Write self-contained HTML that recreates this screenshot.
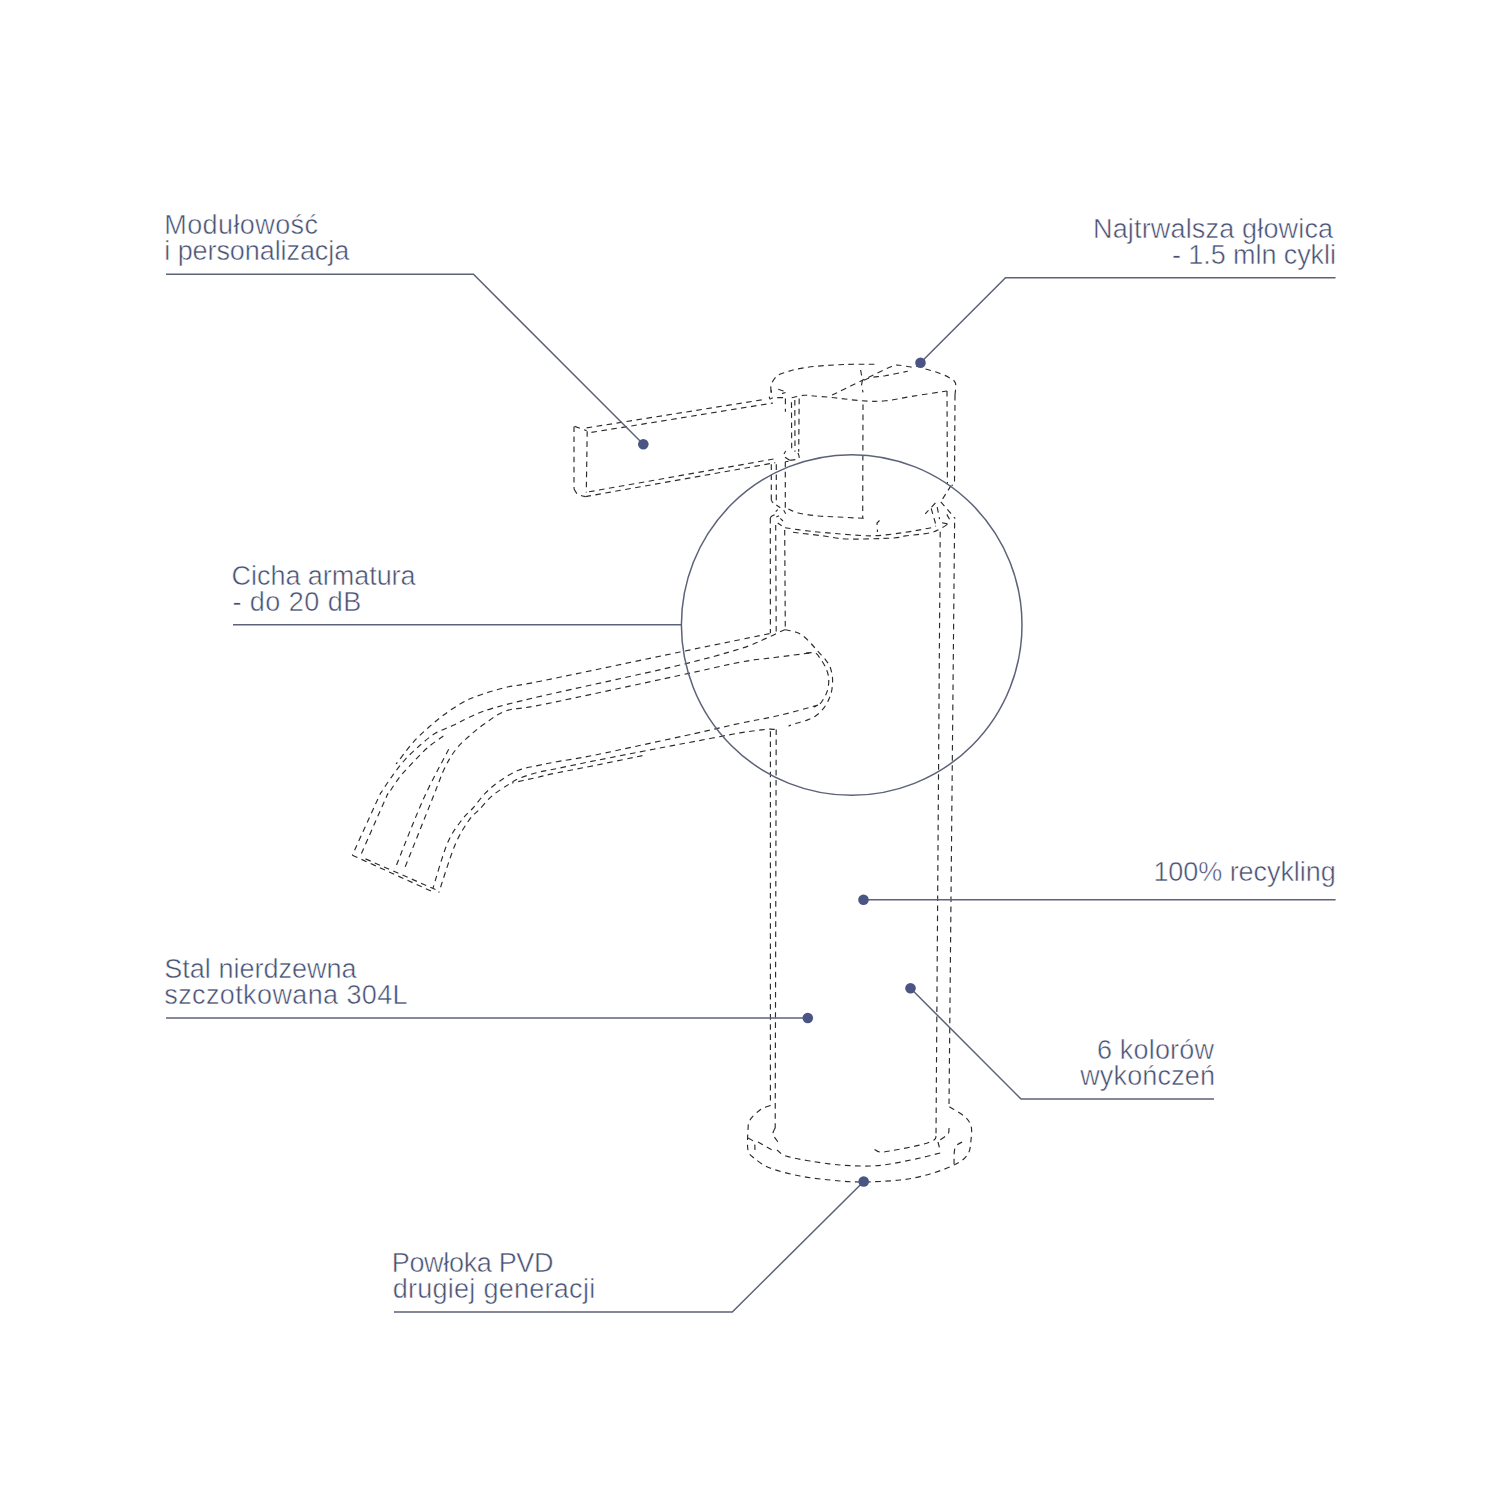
<!DOCTYPE html>
<html><head><meta charset="utf-8"><style>
html,body{margin:0;padding:0;background:#fff;width:1500px;height:1500px;overflow:hidden}
svg{display:block}
.t text{font-family:"Liberation Sans",sans-serif;font-size:27px;fill:#475073;stroke:#fff;stroke-width:0.5px}
</style></head><body>
<svg width="1500" height="1500" viewBox="0 0 1500 1500">
<g fill="none" stroke="#2b2b2b" stroke-width="1.15" stroke-dasharray="5.6 4.5"><path d="M574.0,488.8 C574.4,489.5 575.4,491.9 576.5,493.0 C577.6,494.1 579.1,494.8 580.6,495.4 C582.1,496.0 584.6,496.4 585.4,496.6"/><path d="M771.2,392.0 C771.2,390.8 770.2,387.3 771.2,384.6 C772.2,381.9 774.7,377.8 777.3,375.7 C779.9,373.6 783.4,373.1 786.6,372.0 C789.8,370.9 791.7,370.1 796.4,369.2 C801.1,368.3 807.1,367.2 815.0,366.4 C822.9,365.6 834.0,364.9 844.0,364.5 C854.0,364.1 869.8,364.3 875.0,364.3"/><path d="M925.5,369.0 C927.4,369.6 932.8,370.9 936.7,372.3 C940.6,373.7 945.8,375.6 948.9,377.4 C952.0,379.2 954.4,380.1 955.4,383.0 C956.4,385.9 955.1,393.0 955.0,395.0"/><path d="M791.7,397.7 C793.7,397.3 800.2,395.6 803.9,395.3 C807.6,395.0 809.0,395.6 813.7,396.0 C818.4,396.4 824.1,396.7 832.1,397.5 C840.1,398.3 853.1,400.2 862.0,400.8 C870.9,401.4 876.8,401.6 885.4,400.8 C894.0,400.0 903.1,397.7 913.4,396.1 C923.7,394.5 941.4,391.9 947.0,391.0"/><path d="M788.3,509.0 C790.0,509.7 793.3,511.8 798.3,513.0 C803.3,514.2 812.7,515.4 818.3,516.0 C823.9,516.6 824.6,516.3 832.0,516.7 C839.4,517.1 856.7,518.0 862.7,518.2 C868.7,518.5 867.1,518.2 868.0,518.2"/><path d="M832.1,395.1 C837.2,392.6 852.7,384.9 862.5,380.2 C872.3,375.5 884.9,369.2 891.0,366.7 C897.1,364.2 896.0,365.2 899.4,365.3 C902.8,365.4 908.4,367.0 911.5,367.1 C914.6,367.2 916.9,366.2 918.0,366.0"/><path d="M863.9,380.2 C865.3,379.7 868.7,378.1 872.3,377.4 C875.9,376.6 879.5,376.7 885.4,375.7 C891.3,374.7 904.1,372.0 907.8,371.3"/><path d="M769.3,396.7 C769.4,397.1 769.5,398.8 770.0,399.0 C770.5,399.2 771.1,398.2 772.0,398.0 C772.9,397.8 773.5,397.8 775.4,397.7 C777.3,397.6 782.0,397.7 783.3,397.7"/><path d="M778.2,389.3 C778.8,389.5 780.6,390.1 782.0,390.5 C783.4,390.9 786.6,391.5 786.6,392.0 C786.6,392.5 782.8,393.2 782.0,393.5"/><path d="M773.0,503.0 L771.3,500.3"/><path d="M785.0,457.3 L789.7,460.3"/><path d="M789.7,460.3 C791.1,460.1 796.8,459.7 798.3,459.0 C799.8,458.3 799.0,457.0 799.0,456.0 C799.0,455.0 798.2,453.5 798.0,453.0"/><path d="M770.3,518.0 C770.6,517.7 770.7,516.8 772.0,516.0 C773.3,515.2 777.0,513.5 778.0,513.0"/><path d="M785.0,527.8 C788.9,528.3 801.6,530.2 808.3,531.0 C815.0,531.8 814.7,531.8 825.0,532.6 C835.3,533.4 857.1,535.8 870.3,535.8 C883.5,535.8 894.5,533.7 904.2,532.4 C914.0,531.1 923.5,529.2 928.8,528.2 C934.1,527.2 934.8,526.5 936.0,526.1"/><path d="M793.0,532.3 C797.8,532.9 812.7,534.6 821.7,535.7 C830.8,536.8 835.4,538.6 847.3,539.0 C859.2,539.4 883.6,538.5 893.3,538.0 C903.0,537.5 899.4,536.7 905.4,535.9 C911.4,535.1 923.7,534.1 929.4,533.0 C935.1,531.9 936.5,530.6 939.6,529.1 C942.7,527.6 946.6,524.9 948.0,524.0"/><path d="M769.5,633.6 C764.6,634.6 754.9,636.6 740.0,639.7 C725.1,642.8 713.1,645.1 680.0,652.0 C646.9,658.9 570.5,675.1 541.5,681.0 C512.5,686.9 517.0,684.8 506.3,687.3 C495.6,689.8 484.5,693.4 477.0,696.1 C469.5,698.8 466.8,700.2 461.3,703.3 C455.8,706.4 449.4,710.7 444.0,714.7 C438.6,718.7 433.7,722.9 428.7,727.3 C423.7,731.7 418.6,736.3 414.0,741.3 C409.4,746.3 404.3,753.5 401.3,757.3 C398.3,761.1 396.9,762.9 396.0,764.0"/><path d="M785.0,629.7 C784.0,630.1 782.2,630.8 779.0,632.3 C775.8,633.8 772.5,635.6 766.0,638.4 C759.5,641.1 755.0,644.2 740.0,648.8 C725.0,653.4 709.1,658.1 676.0,666.0 C642.9,673.9 572.2,689.0 541.5,696.1 C510.8,703.2 503.6,705.1 491.6,708.6 C479.6,712.1 475.7,714.5 469.3,717.3 C462.9,720.1 459.0,722.6 453.3,725.3 C447.6,728.0 440.9,730.0 435.3,733.3 C429.8,736.6 425.0,741.0 420.0,745.3 C415.0,749.6 409.9,754.3 405.3,759.3 C400.8,764.3 396.6,770.0 392.7,775.3 C388.8,780.6 384.4,787.4 382.0,791.3 C379.6,795.2 382.9,788.1 378.0,798.7 C373.1,809.4 356.6,845.8 352.3,855.2"/><path d="M443.3,736.0 C440.8,737.9 433.0,743.0 428.0,747.3 C423.0,751.6 418.0,757.1 413.3,762.0 C408.6,766.9 404.1,771.5 400.0,776.7 C395.9,781.9 391.1,789.5 388.7,793.3 C386.2,797.1 390.1,788.6 385.3,799.3 C380.5,810.0 364.0,847.7 359.7,857.4"/><path d="M809.3,653.1 C803.5,653.8 786.2,656.0 774.7,657.5 C763.2,659.0 755.8,659.2 740.0,662.2 C724.2,665.2 712.6,668.3 680.0,675.3 C647.4,682.3 573.4,698.3 544.4,704.2 C515.4,710.1 516.3,707.5 506.3,710.8 C496.3,714.1 490.5,719.8 484.3,724.0 C478.1,728.2 474.0,731.8 469.3,736.0 C464.6,740.2 460.1,744.0 456.0,749.3 C451.9,754.6 448.4,760.4 444.7,768.0 C441.0,775.6 440.8,777.6 434.0,794.7 C427.2,811.8 408.8,858.0 403.7,870.6"/><path d="M448.7,749.3 C444.5,757.6 432.3,779.3 423.3,799.3 C414.3,819.3 399.6,857.5 394.9,869.1"/><path d="M785.1,629.7 C787.0,630.1 793.1,631.1 796.3,632.3 C799.5,633.5 801.5,634.7 804.1,636.7 C806.7,638.7 809.6,642.0 811.9,644.5 C814.2,647.0 815.7,648.8 818.0,651.4 C820.3,654.0 823.8,657.5 825.8,660.1 C827.8,662.7 829.0,664.0 830.1,667.0 C831.2,670.0 832.2,674.2 832.5,678.0 C832.8,681.8 832.4,686.1 831.9,689.5 C831.4,692.9 830.6,695.2 829.3,698.2 C828.0,701.2 826.3,704.8 824.1,707.7 C821.9,710.6 819.0,713.5 816.3,715.5 C813.5,717.5 810.9,718.6 807.6,719.9 C804.3,721.2 799.5,722.3 796.3,723.3 C793.1,724.3 789.8,725.5 788.5,726.0"/><path d="M805.9,653.1 C807.5,653.1 812.9,652.1 815.4,653.1 C817.9,654.1 819.0,657.0 820.6,659.2 C822.2,661.4 823.6,663.4 824.9,666.1 C826.2,668.9 827.8,672.4 828.4,675.7 C829.0,679.0 828.8,682.9 828.4,686.1 C828.0,689.3 827.2,691.7 825.8,694.7 C824.3,697.7 821.7,702.3 819.7,704.3 C817.7,706.3 814.7,706.5 813.7,706.9"/><path d="M818.0,705.1 C811.5,706.8 792.0,712.5 779.0,715.5 C766.0,718.5 754.1,720.3 740.0,723.3 C725.9,726.3 718.3,728.4 694.4,733.6 C670.5,738.8 619.5,750.0 596.5,754.7 C573.5,759.4 566.5,759.9 556.7,761.7 C546.9,763.5 544.0,764.2 537.6,765.6 C531.2,767.0 524.7,767.8 518.5,770.3 C512.3,772.8 505.8,776.9 500.3,780.7 C494.8,784.5 490.2,788.3 485.6,792.9 C481.0,797.5 476.5,804.1 472.6,808.5 C468.7,812.9 466.5,813.6 462.3,819.3 C458.1,825.0 452.5,831.3 447.6,842.8 C442.7,854.3 435.4,880.6 433.0,888.2"/><path d="M774.7,729.4 C773.2,729.4 771.8,728.8 766.0,729.4 C760.2,730.0 751.7,730.9 740.0,732.9 C728.3,734.9 710.4,738.5 696.0,741.2 C681.6,743.9 670.2,746.0 653.6,749.2 C637.0,752.4 612.6,757.2 596.5,760.4 C580.4,763.6 566.5,766.6 556.7,768.6 C546.9,770.6 544.0,770.8 537.6,772.5 C531.2,774.2 523.3,776.6 518.5,778.6 C513.7,780.6 513.3,781.4 509.0,784.2 C504.7,787.0 497.6,791.2 492.5,795.5 C487.4,799.8 482.5,806.2 478.7,810.2 C474.9,814.2 473.6,813.5 469.6,819.3 C465.7,825.1 460.1,832.8 455.0,845.0 C449.9,857.2 441.5,884.7 438.8,892.6"/><path d="M642.4,755.6 C634.8,757.2 610.8,762.2 596.5,765.1 C582.2,768.0 566.5,770.9 556.7,772.9 C546.9,774.9 543.4,776.0 537.6,777.3 C531.8,778.6 526.3,779.8 522.0,780.7 C517.7,781.7 513.7,782.6 512.0,783.0"/><path d="M352.3,855.2 L433.0,891.9"/><path d="M365.5,858.9 L436.0,889.7"/><path d="M770.4,1105.4 C768.7,1106.2 763.4,1107.6 760.0,1110.0 C756.6,1112.4 752.0,1116.7 750.0,1120.0 C748.0,1123.3 748.3,1125.0 748.0,1130.0 C747.7,1135.0 747.0,1145.3 748.0,1150.0 C749.0,1154.7 750.3,1155.0 754.0,1158.0 C757.7,1161.0 762.3,1165.0 770.0,1168.0 C777.7,1171.0 790.0,1174.0 800.0,1176.0 C810.0,1178.0 820.0,1179.0 830.0,1180.0 C840.0,1181.0 848.3,1182.0 860.0,1182.0 C871.7,1182.0 888.3,1181.3 900.0,1180.0 C911.7,1178.7 920.7,1176.7 930.0,1174.0 C939.3,1171.3 949.7,1167.3 956.0,1164.0 C962.3,1160.7 965.5,1158.0 968.0,1154.0 C970.5,1150.0 970.5,1144.7 971.0,1140.0 C971.5,1135.3 972.2,1130.0 971.0,1126.0 C969.8,1122.0 967.7,1119.2 964.0,1116.0 C960.3,1112.8 951.5,1108.1 949.0,1106.5"/><path d="M775.2,1128.0 C774.8,1129.0 772.5,1131.7 773.0,1134.0 C773.5,1136.3 776.8,1140.3 778.0,1142.0 C779.2,1143.7 779.7,1143.7 780.0,1144.0"/><path d="M777.0,1150.0 C778.5,1151.0 780.5,1154.2 786.0,1156.0 C791.5,1157.8 801.0,1159.5 810.0,1161.0 C819.0,1162.5 830.0,1164.2 840.0,1165.0 C850.0,1165.8 861.7,1166.2 870.0,1166.0 C878.3,1165.8 881.7,1165.3 890.0,1164.0 C898.3,1162.7 911.0,1160.0 920.0,1158.0 C929.0,1156.0 940.0,1153.0 944.0,1152.0"/><path d="M936.0,1136.0 C935.7,1136.7 936.7,1138.5 934.0,1140.0 C931.3,1141.5 927.3,1143.2 920.0,1145.0 C912.7,1146.8 896.7,1149.8 890.0,1151.0 C883.3,1152.2 882.7,1152.3 880.0,1152.0 C877.3,1151.7 875.0,1149.5 874.0,1149.0"/><path d="M949.0,1128.0 C948.8,1129.0 949.5,1132.0 948.0,1134.0 C946.5,1136.0 941.3,1139.0 940.0,1140.0"/><path d="M938.0,1142.0 L940.0,1150.0"/><path d="M962.0,1142.0 C960.8,1143.0 956.3,1144.3 955.0,1148.0 C953.7,1151.7 954.2,1161.3 954.0,1164.0"/><path d="M748.0,1138.0 C749.0,1138.7 752.8,1140.0 754.0,1142.0 C755.2,1144.0 754.8,1148.7 755.0,1150.0"/><path d="M758.0,1142.0 L772.0,1150.0"/><path d="M574.6,426.4 L586.6,430.6"/><path d="M586.6,427.9 L766.0,399.2"/><path d="M591.4,432.4 L773.0,403.0"/><path d="M574.0,426.4 L574.0,488.8"/><path d="M587.2,431.2 L586.3,492.4"/><path d="M589.0,491.8 L776.0,458.6"/><path d="M585.4,496.6 L775.3,462.7"/><path d="M955.0,395.0 L954.5,484.0 L951.6,485.6"/><path d="M947.0,391.0 L947.4,483.8"/><path d="M863.0,404.5 L862.7,518.0"/><path d="M860.6,370.0 L862.5,380.2 L861.5,384.9 L863.0,392.3"/><path d="M785.4,398.6 L785.4,411.7"/><path d="M791.5,402.3 L791.7,451.7"/><path d="M794.8,400.0 L795.0,451.7"/><path d="M799.2,398.6 L798.7,451.7"/><path d="M785.7,451.0 L784.0,454.0"/><path d="M771.3,464.3 L771.3,500.3"/><path d="M776.3,464.3 L776.3,500.3"/><path d="M785.3,461.7 L785.3,507.7"/><path d="M785.3,461.7 L788.5,461.3"/><path d="M771.2,390.0 L771.2,393.0"/><path d="M776.3,505.0 L780.3,507.7"/><path d="M951.0,485.6 L940.8,501.8"/><path d="M935.4,503.0 L925.2,513.8"/><path d="M940.8,501.8 L955.2,518.6"/><path d="M931.2,508.4 L936.0,525.2"/><path d="M937.2,507.2 L939.6,519.2"/><path d="M946.8,514.4 L949.8,519.8"/><path d="M942.0,522.8 L948.0,524.0"/><path d="M775.7,511.7 L777.7,509.7"/><path d="M776.3,517.0 L779.0,515.7"/><path d="M780.3,518.3 L783.0,521.0"/><path d="M777.7,523.0 L781.7,525.7"/><path d="M783.7,510.3 L785.7,513.7"/><path d="M879.5,520.5 L877.0,523.0 L877.5,532.0"/><path d="M770.3,518.0 L770.4,633.3"/><path d="M775.7,525.0 L776.2,632.0"/><path d="M784.7,530.0 L785.3,629.3"/><path d="M940.2,531.8 L936.0,1136.0"/><path d="M954.6,522.8 L949.0,1106.5"/><path d="M770.4,731.3 L770.4,1105.6"/><path d="M776.2,729.4 L775.2,1128.0"/></g>
<circle cx="851.7" cy="625" r="170.3" fill="none" stroke="#5c6278" stroke-width="1.5"/>
<g fill="none" stroke="#5c6278" stroke-width="1.5"><path d="M166.0,274.3 L473.5,274.3 L643.3,444.2"/><path d="M1335.5,277.8 L1005.5,277.8 L920.5,362.7"/><path d="M233.0,624.8 L681.3,624.8"/><path d="M863.5,899.8 L1335.6,899.8"/><path d="M166.0,1018.0 L807.8,1018.0"/><path d="M910.5,988.3 L1021.0,1099.0 L1214.0,1099.0"/><path d="M863.7,1181.5 L732.3,1312.0 L394.0,1312.0"/></g>
<g fill="#4a5584"><circle cx="643.3" cy="444.2" r="5.3"/><circle cx="920.5" cy="362.7" r="5.3"/><circle cx="863.5" cy="899.8" r="5.3"/><circle cx="807.8" cy="1018.0" r="5.3"/><circle cx="910.5" cy="988.3" r="5.3"/><circle cx="863.7" cy="1181.5" r="5.3"/></g>
<g class="t"><text x="164.30" y="234.0" text-anchor="start" letter-spacing="0.401">Modułowość</text><text x="164.30" y="260.0" text-anchor="start" letter-spacing="-0.078">i personalizacja</text><text x="1333.27" y="237.5" text-anchor="end" letter-spacing="0.167">Najtrwalsza głowica</text><text x="1335.82" y="263.5" text-anchor="end" letter-spacing="-0.085">- 1.5 mln cykli</text><text x="231.60" y="584.6" text-anchor="start" letter-spacing="-0.045">Cicha armatura</text><text x="232.40" y="610.6" text-anchor="start" letter-spacing="0.487">- do 20 dB</text><text x="1335.64" y="880.7" text-anchor="end" letter-spacing="-0.063">100% recykling</text><text x="164.30" y="978.0" text-anchor="start" letter-spacing="0.013">Stal nierdzewna</text><text x="164.30" y="1004.0" text-anchor="start" letter-spacing="0.385">szczotkowana 304L</text><text x="1214.19" y="1058.6" text-anchor="end" letter-spacing="0.194">6 kolorów</text><text x="1215.15" y="1084.6" text-anchor="end" letter-spacing="0.150">wykończeń</text><text x="391.70" y="1272.4" text-anchor="start" letter-spacing="-0.320">Powłoka PVD</text><text x="392.70" y="1298.4" text-anchor="start" letter-spacing="0.271">drugiej generacji</text></g>
</svg>
</body></html>
